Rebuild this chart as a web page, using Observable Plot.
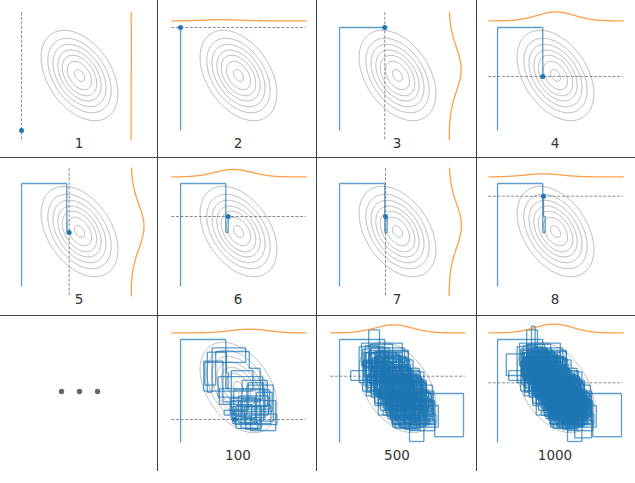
<!DOCTYPE html>
<html><head><meta charset="utf-8">
<script src="https://cdn.jsdelivr.net/npm/d3@7"></script>
<script src="https://cdn.jsdelivr.net/npm/@observablehq/plot@0.6"></script>
<style>
html,body{margin:0;background:#fff;}
#fig{position:relative;width:635px;height:483px;overflow:hidden;font-family:"DejaVu Sans",sans-serif;background:#fff;}
.cell{position:absolute;}
.vl{position:absolute;top:0;height:471px;width:1px;background:#444;}
.hl{position:absolute;left:0;width:635px;height:1px;background:#444;}
</style></head><body><div id="fig"></div>
<script>
// ---------- data ----------
const panelLabels = ["1","2","3","4","5","6","7","8","","100","500","1000"];
const panelSteps  = [1,2,3,4,5,6,7,8,null,100,500,1000];
const gaussSd  = [1.7, 2.0];
const gaussRho = -0.4;
const contourLevels = [0.17,0.30,0.43,0.57,0.70,0.84,0.97];
const ellipsisDots = [-1.5, 0, 1.5];
// Gibbs chain: chainX[k] = x after k-th x-update, chainY[k] = y after k-th y-update
const chainX = [
-4.83,-1.06,-0.86,-1.0,-2.6,-2.2,0.6,-2.8,-1.9,0.9,
1.8,-1.3,-2.9,1.2,-0.6,2.8,1.5,-0.5,2.4,0.3,
2.2,-1.6,1.1,2.9,0.7,-0.7,1.8,0.2,2.0,-1.7,
1.4,-0.4,2.6,-0.3,1.0,3.1,-0.6,2.1,0.8,-1.2,
2.5,0.0,1.6,-0.2,2.7,0.5,1.9,0.6,3.2,-0.3,
2.3,-1.8,-2.7,1.3,-0.9,-3.0,0.4,1.9,-0.8,2.2,
-2.1,0.8,2.6,-0.4,-2.5,1.0,-1.4,0.9,2.0,-1.9,
3.4,0.3,-2.2,1.6,-1.1,-3.2,0.5,2.4,-0.9,1.2,
-1.5,0.2,2.8,-1.0,-2.6,0.7,2.0,-1.7,0.3,-1.3,
1.1,2.3,-2.4,0.6,-0.8,1.3,-1.6,1.9,-2.0,0.9,
2.5,-0.1,-2.8,0.4,1.6,-1.2,2.1,-0.6,1.4,-1.9,
0.5,-2.3,-0.7,2.2,-1.4,1.0,-2.9,-2.4,-1.5,1.8,
-1.1,2.6,-0.5,-2.2,1.3,0.0,-1.8,0.7,2.3,-0.4,
1.7,-1.5,0.8,-2.6,1.5,3.0,-0.9,-2.3,-0.4,1.2,
-0.7,-2.0,1.9,0.3,-3.9,0.6,2.4,-1.1,0.2,-1.6,
1.2,3.1,5.5,0.4,1.6,-1.9,0.1,2.2,-0.5,-2.4,
-1.2,0.9,-0.8,1.4,2.9,-0.3,-2.6,0.5,2.0,-1.3,
-1.9,1.1,2.2,1.0,-1.5,0.9,-0.9,-2.8,0.4,1.8,
-0.2,-1.8,2.1,-1.0,1.1,-2.2,-0.1,2.7,-0.7,0.6,
1.4,-2.5,1.0,-1.3,-0.3,1.7,3.0,-0.6,-1.8,1.3,
-1.0,2.1,-1.7,-0.8,1.2,-0.4,-2.3,0.8,2.4,0.1,
1.5,-1.4,0.9,-1.6,-2.7,0.2,1.8,-0.2,-2.0,0.4,
2.3,-0.9,-2.2,0.9,2.8,-0.5,-1.8,0.1,1.1,-1.0,
1.9,0.7,-1.5,-0.4,2.2,-0.6,-2.4,-1.0,1.4,0.4,
-1.7,1.1,-0.7,-2.1,0.6,2.0,-1.2,0.3,1.6,-0.9,
0.8,2.6,-1.0,-2.5,0.9,1.7,-1.4,2.1,0.3,-2.2,
-0.7,1.3,-0.4,2.4,0.5,-1.6,-0.5,1.8,-1.3,0.6,
-1.1,-2.6,0.4,2.2,1.0,-0.7,1.5,-0.3,-1.9,1.2,
2.7,-0.6,-2.8,0.7,-0.4,-1.4,1.6,0.0,-2.1,-0.5,
2.3,-0.9,0.6,-1.7,-4.1,0.2,1.9,-1.2,0.8,2.6,
-0.4,-1.8,-0.8,1.4,-0.3,-2.3,0.9,1.8,-0.7,-1.6,
1.7,-1.3,1.0,2.9,-0.5,-2.5,0.1,1.5,-1.0,2.0,
0.6,-1.9,0.4,-0.6,1.3,-0.1,-2.7,0.5,2.4,-0.3,
-1.5,0.8,-1.0,0.0,1.8,-1.6,-0.6,2.5,0.4,-2.0,
1.1,2.2,-0.8,0.3,-1.5,-2.4,-0.9,1.4,-0.5,2.7,
-0.3,-1.8,1.0,0.5,-1.2,-0.7,1.9,0.2,-2.2,0.6,
1.3,-1.2,1.6,3.0,-0.4,-1.7,0.8,-0.6,-2.6,0.7,
2.1,-0.2,-1.4,-0.3,1.7,-1.0,0.9,2.3,-0.9,-2.8,
-0.6,1.5,-0.5,0.5,-1.6,0.3,2.8,0.0,-1.9,1.3,
0.7,-0.9,-2.3,0.6,1.8,-0.4,-1.2,1.0,-1.8,-0.5,
2.2,-0.7,0.1,1.4,0.3,-2.1,0.5,-1.2,-0.4,2.4,
-0.2,-1.7,-2.0,1.1,-0.6,0.7,1.9,-1.1,-2.5,0.9,
-0.5,0.2,1.7,0.3,-1.4,1.3,0.0,-2.2,0.6,2.6,
-0.8,-2.0,-0.1,2.0,-1.0,0.4,2.2,0.8,-1.3,-0.5,
1.5,-1.6,-2.7,0.3,1.8,-0.7,1.0,-0.2,-1.8,1.2,
2.8,-0.6,-1.9,0.7,-0.9,-0.2,1.9,0.5,-1.2,1.4,
-2.4,0.0,1.1,-1.4,0.3,2.5,-0.7,-2.1,-0.3,1.6,
-0.4,0.6,-1.1,-2.6,0.9,2.1,-0.8,0.2,-1.0,1.3,
0.1,-1.6,0.7,2.3,0.3,-1.3,1.5,-1.9,-0.5,2.0,
-0.3,-1.5,1.1,0.2,-2.3,0.4,-0.6,1.6,-0.9,0.3
];
const chainY = [
-4.58,4.0,-0.08,1.25,2.94,-0.4,3.3,2.1,0.2,3.0,
1.6,-1.2,2.2,-0.3,1.4,-2.0,-0.4,-3.0,-1.6,0.6,
-2.5,-0.1,-1.4,-2.8,0.2,-2.2,-0.9,-3.4,-1.0,0.9,
-0.8,-2.6,-0.2,-1.8,-2.4,-3.6,-1.1,-2.7,0.4,-1.9,
-2.3,-0.7,-2.9,-3.4,-1.5,-3.0,-1.6,-3.5,-2.2,-3.1,
-2.67,-0.2,2.9,0.6,-2.4,1.8,3.7,1.0,-2.6,-0.4,
1.3,2.5,-1.7,-3.1,0.9,-0.3,2.4,3.1,-1.4,0.8,
-1.5,-3.3,1.7,-0.8,1.2,3.4,0.4,-2.9,0.3,-1.8,
1.5,2.8,-1.2,-0.5,2.0,-0.7,-2.2,0.6,2.6,-0.9,
1.9,-2.8,0.5,1.1,-1.6,2.3,-0.4,-2.3,1.4,0.2,
-1.9,-3.0,1.6,2.9,-0.6,1.0,-1.7,-2.5,0.7,-1.3,
2.1,0.3,3.3,-1.0,0.1,-1.9,1.7,3.2,4.8,-0.9,
0.8,-1.8,-0.4,2.0,-0.5,-2.7,1.4,2.6,-1.4,-3.3,
-0.8,1.1,-1.0,2.2,0.0,-2.4,-0.3,1.8,3.6,-0.2,
-2.0,1.3,-0.6,-2.8,0.6,1.4,-1.5,0.4,2.7,-0.6,
-1.3,-2.7,-4.1,-0.5,-1.7,0.9,2.4,-0.9,-2.5,0.9,
3.1,1.7,-1.3,0.6,-2.3,-1.0,2.0,0.9,-1.6,0.5,
2.6,-0.2,-1.9,-4.5,-0.4,1.7,-1.2,2.3,1.0,-0.8,
-2.7,1.2,-0.5,0.7,-1.5,1.6,2.9,-1.6,-0.9,2.1,
-2.4,0.4,1.1,-1.1,2.5,-0.6,-3.0,-1.2,1.5,-0.7,
0.6,-2.1,-0.4,3.0,0.5,-1.8,1.3,0.3,-1.2,-3.2,
-1.9,1.0,-0.8,1.8,3.5,1.7,-1.1,-2.5,0.6,1.9,
-1.4,-0.6,2.2,-0.2,-2.6,-1.2,0.9,2.7,-1.7,0.7,
-0.8,-3.1,0.1,2.1,-1.0,-1.8,1.5,2.8,-0.5,-2.3,
1.2,0.5,-1.4,2.4,0.7,-2.1,-0.5,1.7,-0.8,-0.3,
0.94,-2.0,-1.0,2.5,0.6,-2.7,0.4,-0.8,-2.4,1.6,
3.2,-0.6,1.0,-1.9,-2.8,0.7,2.3,-1.1,0.0,1.8,
-1.4,2.6,1.2,-0.5,-3.3,-1.2,1.0,-2.1,1.4,0.4,
-2.2,-0.7,1.9,0.9,-1.8,2.2,-0.5,-2.6,0.8,3.0,
-1.0,-1.6,1.1,-0.3,2.8,1.0,-2.0,-0.4,1.7,-2.5,
-1.3,0.6,3.3,0.1,-1.7,1.4,0.5,-2.9,-0.9,2.0,
-0.1,0.3,-1.1,-2.3,-1.0,1.8,2.6,-1.3,0.8,-0.6,
-3.0,0.1,2.1,-1.6,0.9,-1.9,2.5,0.7,-0.8,-2.2,
1.2,0.0,-1.2,2.2,-1.8,0.6,2.9,-0.5,-2.5,0.9,
-0.2,-2.7,-1.4,1.5,-0.7,1.9,3.6,0.7,-0.6,-2.0,
-1.1,1.3,0.3,-2.4,0.6,2.3,-0.9,-2.8,1.0,2.5,
-1.2,0.5,-0.4,-4.2,-0.7,1.7,0.2,-1.9,2.1,1.0,
-1.0,-2.6,0.7,2.8,-1.3,0.3,-0.7,-2.2,-0.8,1.6,
3.1,0.2,-1.6,1.2,-1.0,1.8,-2.5,-1.7,0.9,-0.1,
-3.0,0.4,2.4,0.6,-0.5,-2.1,1.4,-0.3,0.7,2.6,
-1.4,-0.4,2.0,-1.8,-2.8,0.8,1.8,-0.9,2.2,-1.1,
-2.0,1.0,5.1,1.0,-1.3,1.1,-2.3,-0.6,1.5,0.4,
-1.7,2.3,-0.8,-2.6,0.9,-0.4,-2.1,1.9,0.5,-2.7,
-1.2,1.3,3.0,-0.9,-0.1,1.4,-1.5,-3.2,-0.6,2.0,
-0.7,0.5,2.4,1.0,-1.9,-0.5,0.7,-2.4,1.1,-0.5,
-1.8,-0.9,2.1,0.1,-1.2,2.5,-0.6,-2.9,0.8,-0.2,
0.6,2.7,-1.4,-0.1,1.8,-2.2,-0.7,1.0,3.2,-1.0,
-1.6,1.4,-0.8,2.1,0.6,-2.0,-0.3,2.2,-1.1,0.9,
-2.5,0.4,1.9,-1.3,-3.1,0.7,-0.6,0.2,2.6,-0.9,
-1.8,1.2,-0.1,-2.2,1.0,2.0,-1.5,0.8,-1.0,1.3,
0.39
];

// ---------- derived ----------
const [sx, sy] = gaussSd, rho = gaussRho;
const dens = (x, y) => Math.exp(-0.5 * (x*x/(sx*sx) - 2*rho*x*y/(sx*sy) + y*y/(sy*sy)) / (1 - rho*rho));

const chain = [];
for (let k = 0; k < chainX.length; k++) {
  chain.push({x: chainX[k], y: chainY[k]});
  if (k + 1 < chainY.length) chain.push({x: chainX[k], y: chainY[k+1]});
}

// ---------- layout ----------
const CW = 159, CH = 158, CX = 80, CY = 75, PX = 12;
const xDomain = [-CX/PX, (CW-CX)/PX];
const yDomain = [-(CH-CY)/PX, CY/PX];
const xSpan = [-5.56, 5.64], ySpan = [-5.36, 5.28];
const topBase = 4.55, topAmp = 0.75, rightBase = 4.3, rightAmp = 1.22;
const BLUE = "#1f77b4", ORANGE = "#ff7f0e";

function makePlot(i) {
  const n = panelSteps[i];
  const marks = [];
  if (n == null) {
    marks.push(Plot.dot(ellipsisDots, {x: d => d, r: 2.7, fill: "#666", frameAnchor: "middle"}));
  } else {
    marks.push(Plot.contour({value: dens, x1: -5.6, x2: 5.6, y1: -5.4, y2: 5.4, pixelSize: 0.5,
      thresholds: contourLevels, stroke: "#a3a3a3", strokeWidth: 0.8, fill: "none"}));
    const pts = chain.slice(0, n);
    const cur = pts[n - 1];
    if (n % 2 === 1) {
      marks.push(Plot.ruleX([cur.x], {y1: ySpan[0], y2: ySpan[1], stroke: "#808080", strokeWidth: 0.9, strokeDasharray: "3,1.6"}));
    } else {
      marks.push(Plot.ruleY([cur.y], {x1: xSpan[0], x2: xSpan[1], stroke: "#808080", strokeWidth: 0.9, strokeDasharray: "3,1.6"}));
    }
    const segs = d3.pairs(pts);
    marks.push(Plot.link(segs, {x1: d => d[0].x, y1: d => d[0].y, x2: d => d[1].x, y2: d => d[1].y,
      stroke: BLUE, strokeOpacity: 0.72, strokeWidth: 1.3}));
    if (n % 2 === 1) {
      const ys = d3.range(ySpan[0], ySpan[1] + 1e-9, 0.04);
      marks.push(Plot.line(ys, {x: y => rightBase + rightAmp * dens(cur.x, y), y: y => y,
        stroke: ORANGE, strokeOpacity: 0.75, strokeWidth: 1.3}));
    } else {
      const xs = d3.range(xSpan[0], xSpan[1] + 1e-9, 0.04);
      marks.push(Plot.line(xs, {x: x => x, y: x => topBase + topAmp * dens(x, cur.y),
        stroke: ORANGE, strokeOpacity: 0.75, strokeWidth: 1.3}));
    }
    marks.push(Plot.dot([cur], {x: "x", y: "y", r: 2.5, fill: BLUE, stroke: "none"}));
  }
  marks.push(Plot.text([panelLabels[i]], {text: d => d, frameAnchor: "bottom", dy: -11, fontSize: 13.5, fill: "#333"}));
  return Plot.plot({
    width: CW, height: CH, margin: 0,
    x: {domain: xDomain, axis: null},
    y: {domain: yDomain, axis: null},
    style: {background: "transparent", overflow: "visible", fontFamily: "DejaVu Sans"},
    marks
  });
}

const fig = document.getElementById("fig");
panelLabels.forEach((lab, i) => {
  const col = i % 4, row = Math.floor(i / 4);
  const div = document.createElement("div");
  div.className = "cell";
  div.style.left = (-1 + col * 158.75) + "px";
  div.style.top = (row * 156) + "px";
  div.append(makePlot(i));
  fig.append(div);
});
[157, 316, 476].forEach(x => { const d = document.createElement("div"); d.className = "vl"; d.style.left = x + "px"; fig.append(d); });
[157, 315].forEach(y => { const d = document.createElement("div"); d.className = "hl"; d.style.top = y + "px"; fig.append(d); });
</script></body></html>
